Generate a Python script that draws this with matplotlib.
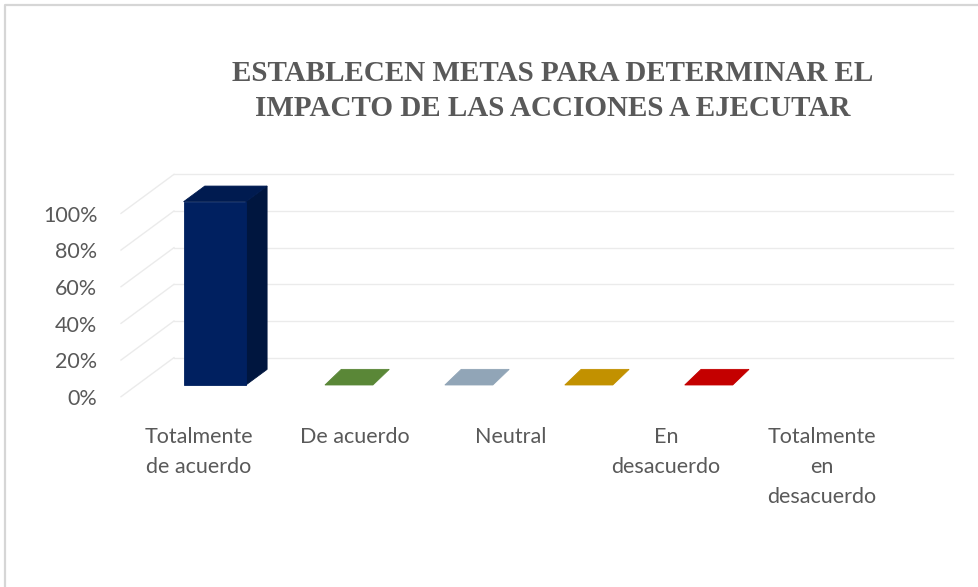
import matplotlib
matplotlib.use("Agg")
import matplotlib.pyplot as plt
from matplotlib.patches import Polygon
from matplotlib.lines import Line2D

# ---- data
categorias = ["Totalmente\nde acuerdo", "De acuerdo", "Neutral",
              "En\ndesacuerdo", "Totalmente\nen\ndesacuerdo"]
valores = [1.00, 0.00, 0.00, 0.00, 0.00]
yticks = [0.0, 0.2, 0.4, 0.6, 0.8, 1.0]
titulo = "ESTABLECEN METAS PARA DETERMINAR EL\nIMPACTO DE LAS ACCIONES A EJECUTAR"

# ---- colours (front, top, side)
COLS = [("#002060", "#001B50", "#00163F"),
        ("#548235", "#5A8737", "#476F2C"),
        ("#8FA4B7", "#91A5B7", "#7A8D9E"),
        ("#BF9000", "#C29100", "#A37B00"),
        ("#C00000", "#C40000", "#A00000")]
INK = "#595959"
GRIDC = "#EBEBEB"

# ---- fake 3-D geometry (oblique projection, data units)
DX, DY = 0.340, 0.213      # full floor depth
F0, F1 = 0.30, 0.70        # column depth span
BW = 0.40                  # column width (gap 150%)
SQ, PIV = 0.77, 1.0        # excel squeezes the empty columns sideways


def P(x, y, f):
    return (x + f * DX, y + f * DY)


def column(ax, c, v, cols):
    xl, xr = c - BW / 2, c + BW / 2
    front = [P(xl, 0, F0), P(xr, 0, F0), P(xr, v, F0), P(xl, v, F0)]
    top = [P(xl, v, F0), P(xr, v, F0), P(xr, v, F1), P(xl, v, F1)]
    side = [P(xr, 0, F0), P(xr, 0, F1), P(xr, v, F1), P(xr, v, F0)]
    faces = [(side, cols[2]), (top, cols[1]), (front, cols[0])]
    if v == 0:
        faces = [([(PIV + SQ * (x - PIV), y) for x, y in top], cols[1])]
    for pts, col in faces:
        ax.add_patch(Polygon(pts, closed=True, facecolor=col,
                             edgecolor=col, lw=0.6, zorder=3))


fig = plt.figure(figsize=(9.79, 5.87), dpi=100)
ax = fig.add_axes([0, 0, 1, 1])
ax.set_xlim(-121 / 155.75, (979 - 121) / 155.75)
ax.set_ylim(-(587 - 396.7) / 183.3, 396.7 / 183.3)
ax.axis("off")

n = len(categorias)
for t in yticks:
    ax.plot([0, DX], [t, t + DY], color=GRIDC, lw=1.0, zorder=1)
    ax.plot([DX, n + DX], [t + DY, t + DY], color=GRIDC, lw=1.0, zorder=1)
    ax.text(-0.152, t - 0.013, f"{t:.0%}", ha="right", va="center",
            fontsize=15.5, family="Lato", color=INK)

for i, (lab, v) in enumerate(zip(categorias, valores)):
    column(ax, i + 0.5, v, COLS[i])
    ax.text(i + 0.5, -0.168, lab, ha="center", va="top", fontsize=15.5,
            family="Lato", color=INK, linespacing=1.62)

fig.text(553 / 979, 1 - 91 / 587, titulo, ha="center", va="center",
         fontsize=21, family="Liberation Serif", fontweight="bold",
         color=INK, linespacing=1.4)

# chart-area border (only top and left visible in the crop)
fig.add_artist(Line2D([5 / 979, 5 / 979, 1.0], [0.0, 1 - 5 / 587, 1 - 5 / 587],
                      transform=fig.transFigure, color="#D6D6D6", lw=1.6))

fig.savefig("out.png", dpi=100)
